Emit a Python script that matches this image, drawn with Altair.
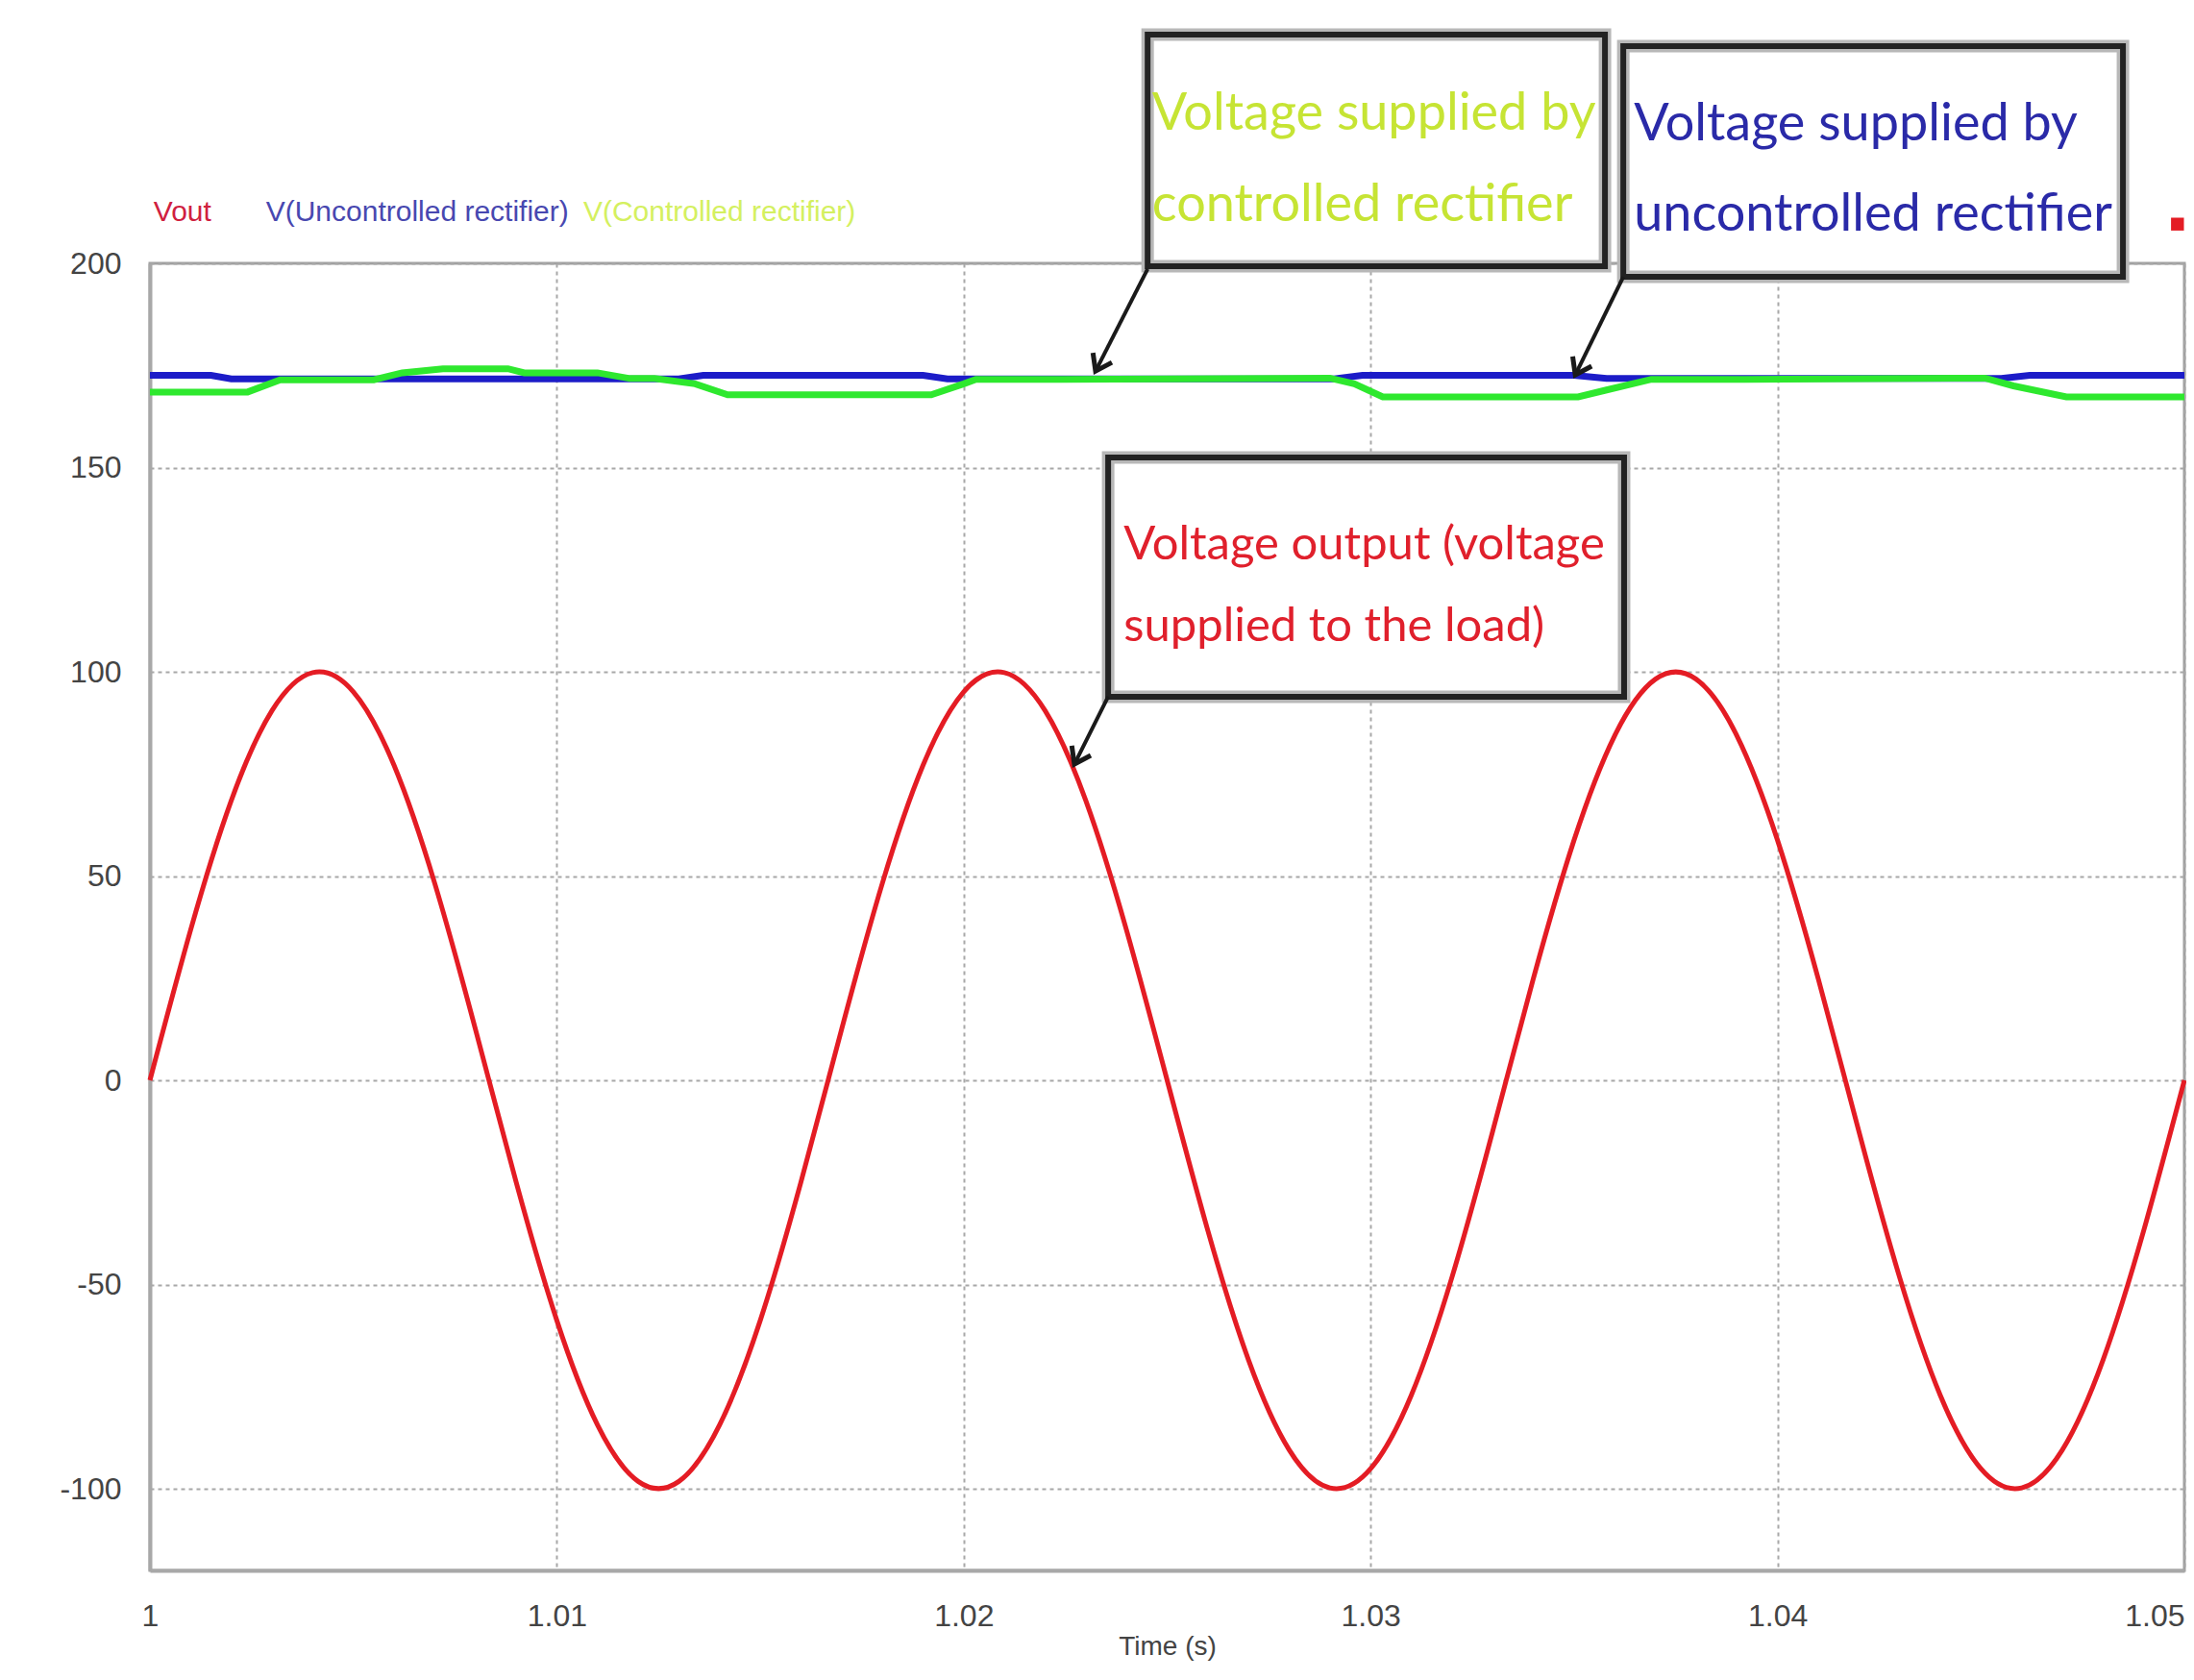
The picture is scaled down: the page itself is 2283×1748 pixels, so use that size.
import altair as alt
import pandas as pd

# ---------------- data ----------------
# Vout sampled every 1 ms from t = 1.000 s to 1.050 s
vout = [0, 36.8, 68.5, 90.5, 99.8, 95.1, 77.1, 48.2, 12.5, -24.9, -58.8, -84.4, -98.2,
        -98.2, -84.4, -58.8, -24.9, 12.5, 48.2, 77.1, 95.1, 99.8, 90.5, 68.5, 36.8, 0,
        -36.8, -68.5, -90.5, -99.8, -95.1, -77.1, -48.2, -12.5, 24.9, 58.8, 84.4, 98.2,
        98.2, 84.4, 58.8, 24.9, -12.5, -48.2, -77.1, -95.1, -99.8, -90.5, -68.5, -36.8, 0]
vout_t = [round(1 + i * 0.001, 3) for i in range(len(vout))]

# V(Uncontrolled rectifier)
blue_t = [1.000, 1.0015, 1.0020, 1.0130, 1.0136, 1.0190, 1.0196, 1.0291, 1.0298,
          1.0350, 1.0358, 1.0455, 1.0462, 1.0500]
blue_v = [172.6, 172.6, 171.7, 171.7, 172.6, 172.6, 171.7, 171.7, 172.6,
          172.6, 171.8, 171.8, 172.6, 172.6]

# V(Controlled rectifier)
green_t = [1.000, 1.0024, 1.0032, 1.0055, 1.0062, 1.0072, 1.0088, 1.0092, 1.0110,
           1.0118, 1.0124, 1.0134, 1.0142, 1.0192, 1.0200, 1.0203, 1.0224, 1.0290,
           1.0296, 1.0303, 1.0351, 1.0358, 1.0369, 1.0392, 1.0451, 1.0458, 1.0471, 1.0500]
green_v = [168.5, 168.5, 171.5, 171.5, 173.2, 174.2, 174.2, 173.2, 173.2,
           171.8, 171.8, 170.5, 167.8, 167.8, 170.5, 171.6, 171.6, 171.9,
           170.5, 167.3, 167.3, 169.0, 171.6, 171.6, 171.9, 170.0, 167.3, 167.3]

# legend labels
legend_labels = ["Vout", "V(Uncontrolled rectifier)", "V(Controlled rectifier)"]
legend_colors = ["#d02040", "#4848b0", "#d4f060"]
legend_t = [1.00009, 1.00285, 1.01065]
legend_v = [212.5, 212.5, 212.5]

# small red marker at the top right
marker_t = [1.04983]
marker_v = [209.6]

# annotation boxes
box_t0 = [1.02452, 1.03621, 1.02355]
box_t1 = [1.03576, 1.04849, 1.03623]
box_v0 = [256.0, 253.2, 152.5]
box_v1 = [199.3, 196.7, 93.9]

note_text = ["Voltage supplied by", "controlled rectifier",
             "Voltage supplied by", "uncontrolled rectifier",
             "Voltage output (voltage", "supplied to the load)"]
note_t = [1.02463, 1.02463, 1.03647, 1.03647, 1.02393, 1.02393]
note_v = [232.7, 210.4, 230.1, 208.0, 127.5, 107.5]
note_color = ["#c6e434", "#c6e434", "#2a2aa8", "#2a2aa8", "#e0202c", "#e0202c"]
note_size = [54, 54, 54, 54, 49, 49]

arrow_t0 = [1.02452, 1.03621, 1.02355]
arrow_v0 = [198.6, 196.7, 93.9]
arrow_t1 = [1.02324, 1.03503, 1.02272]
arrow_v1 = [173.6, 172.7, 77.4]

x_ticks = [1.0, 1.01, 1.02, 1.03, 1.04, 1.05]
y_ticks = [-100, -50, 0, 50, 100, 150, 200]

# ---------------- tables ----------------
df_red = pd.DataFrame({"t": vout_t, "v": vout})
df_blue = pd.DataFrame({"t": blue_t, "v": blue_v})
df_green = pd.DataFrame({"t": green_t, "v": green_v})
df_leg = pd.DataFrame({"t": legend_t, "v": legend_v, "label": legend_labels, "c": legend_colors})
df_marker = pd.DataFrame({"t": marker_t, "v": marker_v})
df_box = pd.DataFrame({"t": box_t0, "t2": box_t1, "v": box_v0, "v2": box_v1})
df_note = pd.DataFrame({"t": note_t, "v": note_v, "text": note_text, "c": note_color, "fs": note_size})
df_arrow = pd.DataFrame({"t": arrow_t0, "v": arrow_v0, "t2": arrow_t1, "v2": arrow_v1})
df_head = pd.DataFrame({"t": arrow_t1, "v": arrow_v1})

NARROW = "Liberation Sans Narrow, Liberation Sans, Arial, sans-serif"

xs = alt.Scale(domain=[1.0, 1.05], nice=False, zero=False)
ys = alt.Scale(domain=[-120, 200], nice=False, zero=False)
xaxis = alt.Axis(
    values=x_ticks, format=".2~f", title="Time (s)", labelFlush=False,
    labelAlign={"condition": {"test": "datum.value >= 1.0499", "value": "right"}, "value": "center"},
)
yaxis = alt.Axis(values=y_ticks, title=None, labelExpr="'' + datum.value")
X = alt.X("t:Q", scale=xs, axis=xaxis)
Y = alt.Y("v:Q", scale=ys, axis=yaxis)

blue = alt.Chart(df_blue).mark_line(color="#1c1cc8", strokeWidth=7).encode(x=X, y=Y)
green = alt.Chart(df_green).mark_line(color="#2ee82e", strokeWidth=7).encode(x=X, y=Y)
red = alt.Chart(df_red).mark_line(color="#e41c24", strokeWidth=5, interpolate="natural").encode(x=X, y=Y)

legend = alt.Chart(df_leg).mark_text(align="left", baseline="middle", font=NARROW, fontSize=30).encode(
    x=X, y=Y, text="label:N", color=alt.Color("c:N", scale=None))

marker = alt.Chart(df_marker).mark_square(color="#e41c24", size=180, opacity=1).encode(x=X, y=Y)

box_shadow = alt.Chart(df_box).mark_rect(fill="white", stroke="#b8b8b8", strokeWidth=13).encode(
    x=X, x2="t2:Q", y=Y, y2="v2:Q")
box = alt.Chart(df_box).mark_rect(fill="white", fillOpacity=0, stroke="#222222", strokeWidth=6).encode(
    x=X, x2="t2:Q", y=Y, y2="v2:Q")

notes = alt.Chart(df_note).mark_text(align="left", baseline="alphabetic", font="Lato").encode(
    x=X, y=Y, text="text:N", color=alt.Color("c:N", scale=None), size=alt.Size("fs:Q", scale=None))

arrows = alt.Chart(df_arrow).mark_rule(color="#1a1a1a", strokeWidth=4).encode(
    x=X, y=Y, x2="t2:Q", y2="v2:Q")
heads = alt.Chart(df_head).mark_point(
    shape="M -0.7 -1 L 0 0 L 0.7 -1", filled=False, color="#1a1a1a", strokeWidth=5,
    size=1000, angle=27, opacity=1).encode(x=X, y=Y)

chart = alt.layer(
    blue, green, red, legend, marker, box_shadow, box, notes, arrows, heads
).properties(
    width=2117, height=1360,
    padding={"left": 148, "top": 266, "right": 2, "bottom": 100},
    autosize=alt.AutoSizeParams(type="none"),
).configure_view(
    stroke="#a0a0a0", strokeWidth=3
).configure_axis(
    domainColor="#a8a8a8", domainWidth=4, ticks=False,
    grid=True, gridColor="#a8a8a8", gridDash=[4, 4], gridWidth=2,
    labelFont=NARROW, labelFontSize=32, labelColor="#444444",
    titleFont=NARROW, titleFontSize=28, titleColor="#444444", titleFontWeight="normal",
).configure_axisY(
    labelPadding=30
).configure_axisX(
    labelPadding=32, titlePadding=2
)

chart.save("out.html", embed_options={"renderer": "svg", "actions": False})
